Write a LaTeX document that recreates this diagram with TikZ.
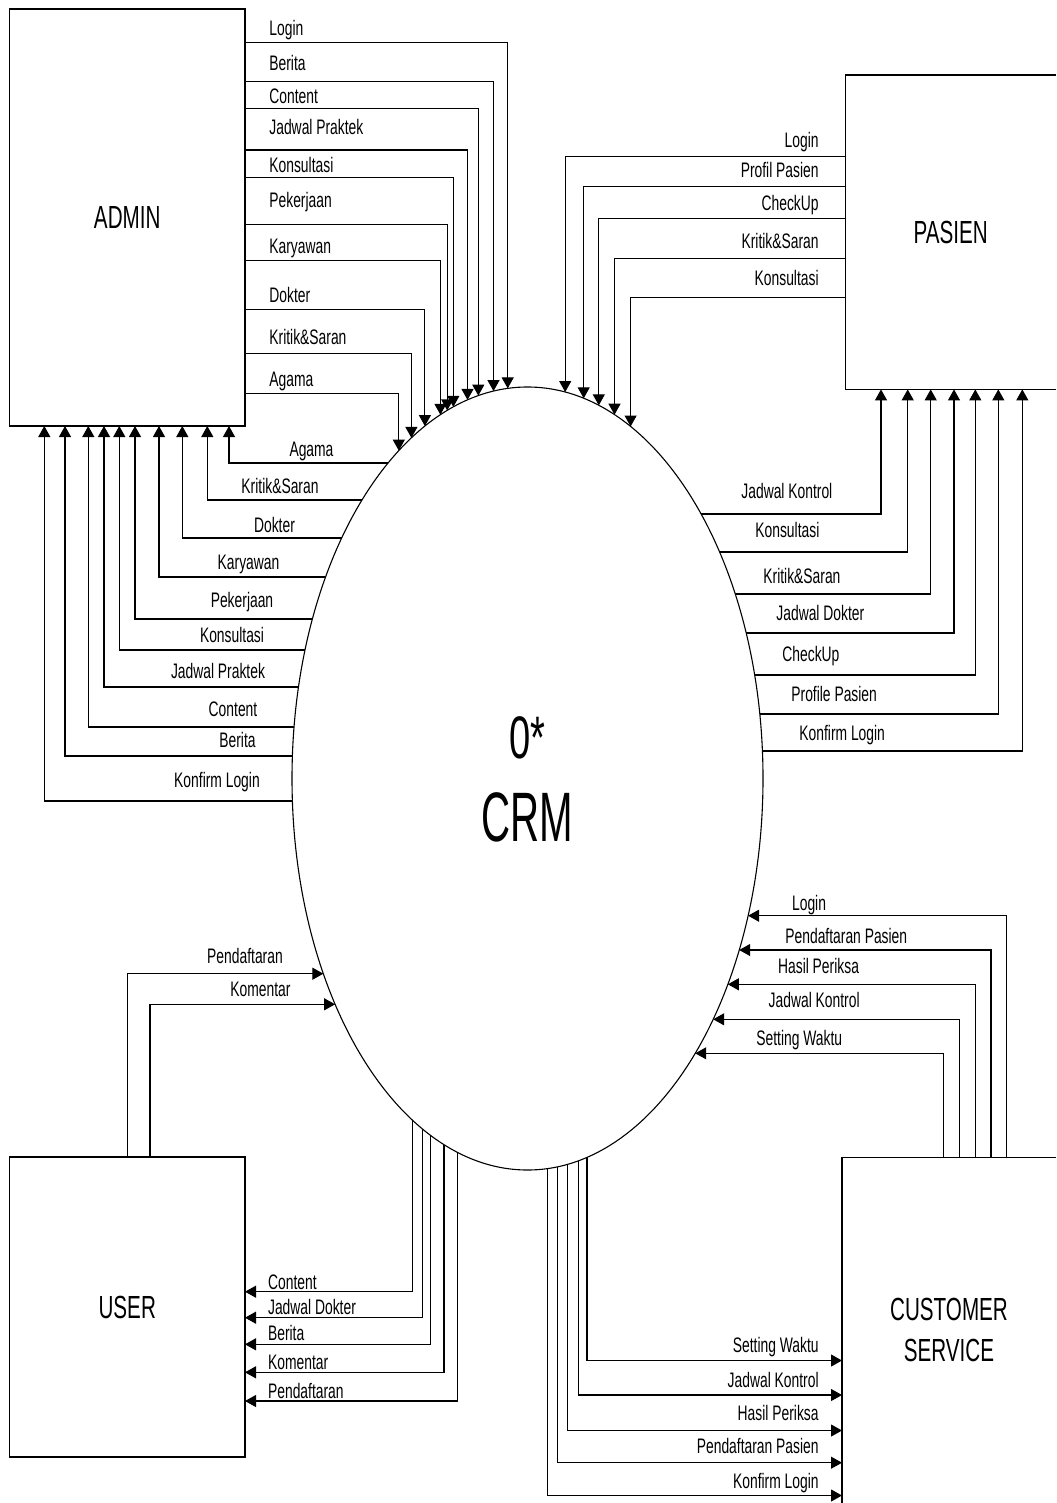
\documentclass[tikz,border=0pt]{standalone}
\usepackage{fontspec}
\newfontfamily\labf{Liberation Sans}[FakeStretch=0.66]
\newfontfamily\bigf{Liberation Sans}[FakeStretch=0.645]
\newfontfamily\zerof{Liberation Sans}[FakeStretch=0.635]
\newfontfamily\crmf{Liberation Sans}[FakeStretch=0.575]
\usetikzlibrary{arrows.meta,shapes.geometric}
\begin{document}
\begin{tikzpicture}[x=0.5pt,y=-0.5pt,
  declare function={
    eyt(\t)=778.5-391.5*sqrt(1-((\t-527.5)/235.5)^2);
    eyb(\t)=778.5+391.5*sqrt(1-((\t-527.5)/235.5)^2);
    exl(\t)=527.5-235.5*sqrt(1-((\t-778.5)/391.5)^2);
    exr(\t)=527.5+235.5*sqrt(1-((\t-778.5)/391.5)^2);
  },
  line/.style={draw=black,line width=0.55pt},
  flow/.style={line,-{Triangle[length=5.5pt,width=6pt]}},
  lab/.style={font=\labf\fontsize{10.5}{12}\selectfont,inner sep=0pt},
  box/.style={line,inner sep=0pt,outer sep=0pt,font=\bigf\fontsize{16}{20.7}\selectfont,align=center},
  openbox/.style={inner sep=0pt,outer sep=0pt,font=\bigf\fontsize{16}{20.7}\selectfont,align=center}]
\useasboundingbox (0,0) rectangle (1056,1503);

% entities
\node[box,minimum width=117.75pt,minimum height=208.5pt] (admin) at (127.25,217.5) {ADMIN};
\node[box,minimum width=117.75pt,minimum height=150pt] (user) at (127.25,1307) {USER};
\node[openbox,minimum width=105.35pt,minimum height=157.2pt] (pasien) at (950.65,232.2) {PASIEN};
\draw[line] (pasien.north east) -- (pasien.north west) -- (pasien.south west) -- (pasien.south east);
\node[openbox,minimum width=107pt,minimum height=172.8pt] (cs) at (949,1330.2) {CUSTOMER\\SERVICE};
\draw[line] (cs.north east) -- (cs.north west) -- (cs.south west);

% process
\node[line,ellipse,inner sep=0pt,outer sep=0pt,minimum width=235.5pt,minimum height=391.5pt] (crm) at (527.5,778.5) {};
\node[font=\zerof\fontsize{30}{36}\selectfont,anchor=base,inner sep=0pt] (zero) at (527.2,758.3) {0*};
\node[font=\crmf\fontsize{35}{42}\selectfont,anchor=base,inner sep=0pt] (crmtxt) at (527.5,841.7) {CRM};

% ADMIN -> CRM
\foreach \yy/\xv/\lbl/\bl [count=\i] in {
  42.9/507.7/Login/35.5,
  81.5/493.5/Berita/71,
  108.5/478.3/Content/104,
  150/467.5/Jadwal Praktek/135,
  177.8/453.3/Konsultasi/172.4,
  224.1/447.2/Pekerjaan/207,
  260.6/440.4/Karyawan/253.5,
  309.6/424.9/Dokter/302.5,
  353.2/411.4/Kritik\&Saran/344.8,
  393.1/398.8/Agama/386.3}{
  \draw[flow] (admin.east |- 0,\yy) -| (\xv,{eyt(\xv)});
  \node[lab,anchor=base west] (ao\i) at (269,\bl) {\lbl};
}

% CRM -> ADMIN
\foreach \yy/\xv/\lbl/\cx/\bl [count=\i] in {
  463/229/Agama/311.5/456,
  500/207.3/Kritik\&Saran/280/493,
  538/182.3/Dokter/274.5/532,
  577/159/Karyawan/248.5/569,
  619/135/Pekerjaan/242/607,
  650/119.3/Konsultasi/232/642,
  687/104/Jadwal Praktek/218/678,
  727/88.3/Content/233/716,
  756/65/Berita/237.5/747,
  801/44.3/Konfirm Login/217/787}{
  \draw[flow] ({exl(\yy)},\yy) -| (admin.south -| \xv,0);
  \node[lab,anchor=base] (ai\i) at (\cx,\bl) {\lbl};
}

% PASIEN -> CRM
\foreach \yy/\xv/\lbl/\bl [count=\i] in {
  156.3/565.2/Login/147.9,
  186.1/583.7/Profil Pasien/177.4,
  218.7/598.8/CheckUp/210.3,
  258.3/614.5/Kritik\&Saran/248.9,
  297.5/630.6/Konsultasi/285.4}{
  \draw[flow] (pasien.west |- 0,\yy) -| (\xv,{eyt(\xv)});
  \node[lab,anchor=base east] (po\i) at (819,\bl) {\lbl};
}

% CRM -> PASIEN
\foreach \yy/\xv/\lbl/\lx/\bl [count=\i] in {
  514/881/Jadwal Kontrol/741/498,
  552/907.7/Konsultasi/755/537,
  594/930.7/Kritik\&Saran/763/583,
  633/954/Jadwal Dokter/776/620,
  675/975.3/CheckUp/782/661,
  714/998.3/Profile Pasien/791/701,
  751/1022.3/Konfirm Login/799/740}{
  \draw[flow] ({exr(\yy)},\yy) -| (pasien.south -| \xv,0);
  \node[lab,anchor=base west] (pi\i) at (\lx,\bl) {\lbl};
}

% USER -> CRM
\draw[flow] (user.north -| 127.3,0) |- ({exl(973.7)},973.7);
\node[lab,anchor=base] (uo1) at (245,963) {Pendaftaran};
\draw[flow] (user.north -| 150,0) |- ({exl(1004.3)},1004.3);
\node[lab,anchor=base] (uo2) at (260.5,996) {Komentar};

% CRM -> USER
\foreach \yy/\xv/\lbl/\bl [count=\i] in {
  1291.7/412.3/Content/1289,
  1317.7/422.3/Jadwal Dokter/1314,
  1344.3/430.7/Berita/1340,
  1372.3/444/Komentar/1369,
  1401/457.7/Pendaftaran/1398}{
  \draw[flow] (\xv,{eyb(\xv)}) |- (user.east |- 0,\yy);
  \node[lab,anchor=base west] (ui\i) at (267.7,\bl) {\lbl};
}

% CS -> CRM
\foreach \yy/\xv/\lbl/\lx/\bl [count=\i] in {
  915.7/1006.7/Login/791.7/910,
  950/991/Pendaftaran Pasien/785/943.3,
  984.3/975.3/Hasil Periksa/777.7/973.3,
  1019.3/959.3/Jadwal Kontrol/768.3/1007.7,
  1053.3/943.3/Setting Waktu/756/1045.7}{
  \draw[flow] (cs.north -| \xv,0) |- ({exr(\yy)},\yy);
  \node[lab,anchor=base west] (co\i) at (\lx,\bl) {\lbl};
}

% CRM -> CS
\foreach \yy/\xv/\lbl/\bl [count=\i] in {
  1360.5/587/Setting Waktu/1352,
  1395/578.6/Jadwal Kontrol/1387.6,
  1430.5/567.6/Hasil Periksa/1420.1,
  1462.7/557.8/Pendaftaran Pasien/1453.7,
  1495.5/547.4/Konfirm Login/1488.9}{
  \draw[flow] (\xv,{eyb(\xv)}) |- (cs.west |- 0,\yy);
  \node[lab,anchor=base east] (ci\i) at (819,\bl) {\lbl};
}
\end{tikzpicture}
\end{document}
